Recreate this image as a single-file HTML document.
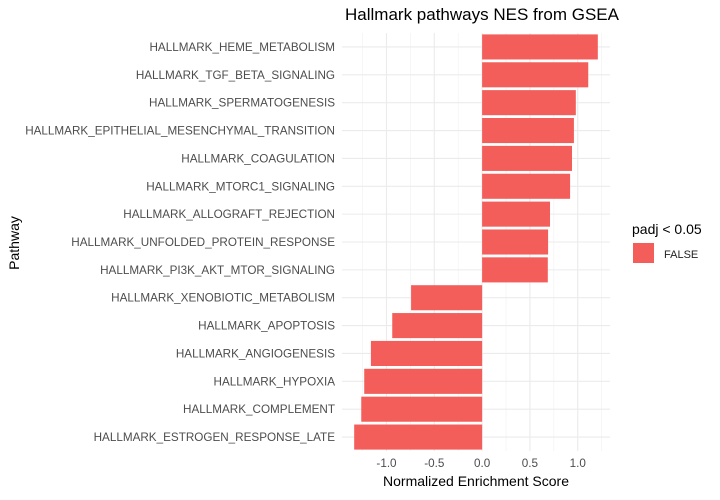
<!DOCTYPE html>
<html><head><meta charset="utf-8"><style>
body{margin:0;background:#fff;font-family:"Liberation Sans",sans-serif}
svg text{font-family:"Liberation Sans",sans-serif}
</style></head><body>
<svg id="c" width="720" height="495">
<text x="482" y="20" font-size="17" text-anchor="middle" fill="#000">Hallmark pathways NES from GSEA</text>
<g id="grid"></g><g id="bars"></g><g id="ylab"></g><g id="xlab"></g>
<text x="476" y="486" font-size="14" text-anchor="middle">Normalized Enrichment Score</text>
<text transform="translate(19,243) rotate(-90)" font-size="14" text-anchor="middle">Pathway</text>
<g>
<text x="632" y="234" font-size="14">padj &lt; 0.05</text>
<rect x="633" y="243" width="21" height="20" fill="#F35E5A"/>
<text x="664" y="258" font-size="11" fill="#222">FALSE</text>
</g>
</svg>
<script>
const pathways=["HALLMARK_HEME_METABOLISM","HALLMARK_TGF_BETA_SIGNALING","HALLMARK_SPERMATOGENESIS","HALLMARK_EPITHELIAL_MESENCHYMAL_TRANSITION","HALLMARK_COAGULATION","HALLMARK_MTORC1_SIGNALING","HALLMARK_ALLOGRAFT_REJECTION","HALLMARK_UNFOLDED_PROTEIN_RESPONSE","HALLMARK_PI3K_AKT_MTOR_SIGNALING","HALLMARK_XENOBIOTIC_METABOLISM","HALLMARK_APOPTOSIS","HALLMARK_ANGIOGENESIS","HALLMARK_HYPOXIA","HALLMARK_COMPLEMENT","HALLMARK_ESTROGEN_RESPONSE_LATE"];
const nes=[1.21,1.11,0.98,0.96,0.94,0.92,0.71,0.69,0.687,-0.743,-0.94,-1.163,-1.233,-1.264,-1.338];
const xTicks=[-1.0,-0.5,0.0,0.5,1.0];
const xTickLabels=["-1.0","-0.5","0.0","0.5","1.0"];
const NS="http://www.w3.org/2000/svg";
const L=342,R=610,T=33,B=451;
const mn=Math.min(0,...nes),mx=Math.max(0,...nes),pad=(mx-mn)*0.05;
const x0=mn-pad,x1=mx+pad;
const X=v=>L+(v-x0)/(x1-x0)*(R-L);
const step=(B-T)/pathways.length;
const Y=i=>T+step*(i+0.5);
function mk(t,a,p){const e=document.createElementNS(NS,t);for(const k in a)e.setAttribute(k,a[k]);p.appendChild(e);return e;}
const grid=document.getElementById('grid');
for(let i=0;i<xTicks.length;i++){
 const m=xTicks[i]+0.25;
 if(m<x1){const g=mk('line',{x1:X(m),x2:X(m),y1:T,y2:B,stroke:'#f0f0f0','stroke-width':0.6},grid);}
 const m2=xTicks[i]-0.25;
 if(i==0&&m2>x0){const g=mk('line',{x1:X(m2),x2:X(m2),y1:T,y2:B,stroke:'#f0f0f0','stroke-width':0.6},grid);}
 const g=mk('line',{x1:X(xTicks[i]),x2:X(xTicks[i]),y1:T,y2:B,stroke:'#ebebeb','stroke-width':1.1},grid);
 
 const t=mk('text',{x:X(xTicks[i]),y:467,'font-size':11.7,'text-anchor':'middle',fill:'#4d4d4d'},document.getElementById('xlab'));
 t.textContent=xTickLabels[i];
 
}
pathways.forEach((p,i)=>{
 const g=mk('line',{x1:L,x2:R,y1:Y(i),y2:Y(i),stroke:'#ebebeb','stroke-width':1.1},grid);
 
 const v=nes[i],h=step*0.9;
 const b=mk('rect',{x:Math.min(X(0),X(v)),y:Y(i)-h/2,width:Math.abs(X(v)-X(0)),height:h,fill:'#F35E5A'},document.getElementById('bars'));
 
 const t=mk('text',{x:335,y:Y(i)+4,'font-size':11.7,'text-anchor':'end',fill:'#4d4d4d'},document.getElementById('ylab'));
 t.textContent=p;
 
});
</script>
</body></html>
